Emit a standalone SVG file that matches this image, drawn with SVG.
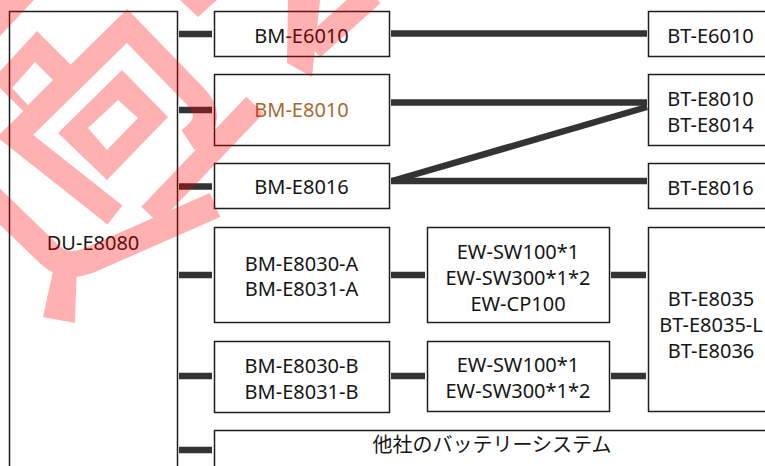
<svg xmlns="http://www.w3.org/2000/svg" width="765" height="466" viewBox="0 0 765 466">
<style>
.box{fill:#fff;stroke:#1e1e1e;stroke-width:1.5}
.t{font-family:"Noto Sans","Open Sans",sans-serif;font-size:20px;fill:#151515;text-anchor:middle}
.j{font-family:"Noto Sans CJK JP","Noto Sans",sans-serif;font-size:20px;fill:#151515;text-anchor:middle}
.c{stroke:#333;stroke-width:6.5;fill:none}
</style>
<rect width="765" height="466" fill="#fff"/>
<g id="DU-E8080"><rect class="box" x="9.5" y="11.5" width="168" height="470"/><text class="t" x="93" y="250">DU-E8080</text></g>
<g id="BM-E6010"><rect class="box" x="214.5" y="11.5" width="175" height="45"/><text class="t" x="301.5" y="43">BM-E6010</text></g>
<g id="BM-E8010"><rect class="box" x="214.5" y="74.5" width="175" height="71"/><text class="t" x="301.5" y="117" style="fill:#a66a2e">BM-E8010</text></g>
<g id="BM-E8016"><rect class="box" x="214.5" y="163.5" width="175" height="45"/><text class="t" x="301.5" y="194">BM-E8016</text></g>
<g id="BM-E8030-A"><rect class="box" x="214.5" y="227.5" width="175" height="95"/><text class="t" x="301.5" y="271">BM-E8030-A</text><text class="t" x="301.5" y="296">BM-E8031-A</text></g>
<g id="BM-E8030-B"><rect class="box" x="214.5" y="341.5" width="175" height="71"/><text class="t" x="301.5" y="373">BM-E8030-B</text><text class="t" x="301.5" y="399">BM-E8031-B</text></g>
<g id="other"><rect class="box" x="214.5" y="430.5" width="570" height="50"/><text class="j" x="492" y="452">他社のバッテリーシステム</text></g>
<g id="EW-A"><rect class="box" x="427.5" y="227.5" width="182" height="95"/><text class="t" x="518" y="259">EW-SW100*1</text><text class="t" x="518" y="285">EW-SW300*1*2</text><text class="t" x="518" y="311">EW-CP100</text></g>
<g id="EW-B"><rect class="box" x="427.5" y="341.5" width="182" height="70"/><text class="t" x="518" y="372">EW-SW100*1</text><text class="t" x="518" y="398">EW-SW300*1*2</text></g>
<g id="BT-E6010"><rect class="box" x="648.5" y="11.5" width="130" height="45"/><text class="t" x="710.5" y="43">BT-E6010</text></g>
<g id="BT-E8010"><rect class="box" x="648.5" y="74.5" width="130" height="71"/><text class="t" x="710.5" y="106">BT-E8010</text><text class="t" x="710.5" y="132">BT-E8014</text></g>
<g id="BT-E8016"><rect class="box" x="648.5" y="163.5" width="130" height="45"/><text class="t" x="710.5" y="195">BT-E8016</text></g>
<g id="BT-E8035"><rect class="box" x="648.5" y="227.5" width="130" height="184"/><text class="t" x="711" y="306">BT-E8035</text><text class="t" x="711" y="332">BT-E8035-L</text><text class="t" x="711" y="358">BT-E8036</text></g>
<g id="connectors">
<path class="c" d="M179 34H212M179 110H212M179 186.5H212M179 275H212M179 376H212M179 450H212"/>
<path class="c" d="M391 33.5H647M391 102.5H647M391 181H647M391 275H425M611 275H646M391 376H425M611 376H646"/>
<path class="c" d="M392 181L647 107"/>
</g>
<g id="watermark" opacity="0.3" fill="#f00">
<polygon points="0,0 34,0 0,36"/>
<path fill-rule="evenodd" d="M37 31L72 66L30 118L-8 80Z M35 62L12 88L28 105L53 80Z"/>
<path fill="none" stroke="#f00" stroke-width="24" stroke-linejoin="miter" d="M115 215L15 136L127 26L195 96Q218 120 188 140"/>
<path fill-rule="evenodd" d="M122 70L168 117L107 180L58 133Z M118 100L88 128L107 150L138 118Z"/>
<path fill="none" stroke="#f00" stroke-width="24" d="M150 215L255 105"/>
<path fill="none" stroke="#f00" stroke-width="26" d="M-10 197L50 255Q66 270 90 260L215 205"/>
<polygon points="55,262 77,262 75,323 43,317"/>
<polygon points="180,0 217,0 198,17"/>
<polygon points="288,0 320,0 312,77 287,63"/>
<path fill="none" stroke="#f00" stroke-width="25" d="M372 -6L312 48"/>
</g>
</svg>
